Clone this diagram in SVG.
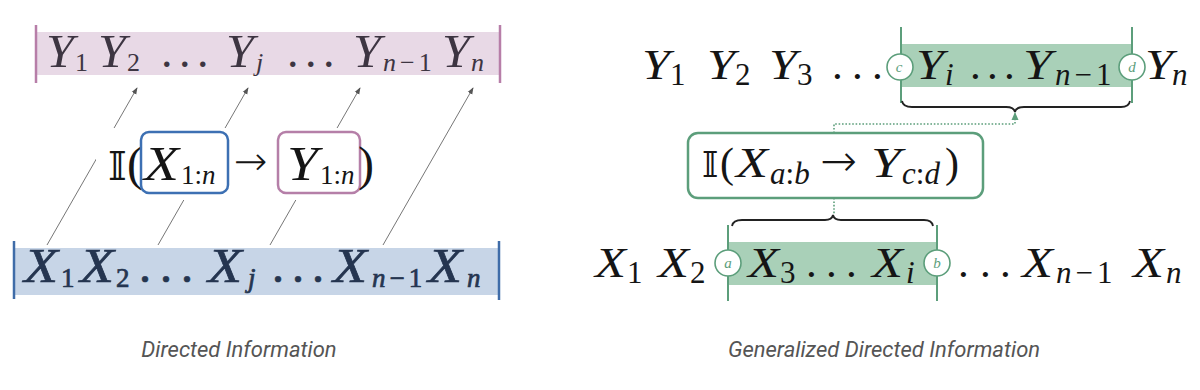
<svg xmlns="http://www.w3.org/2000/svg" width="1200" height="390" viewBox="0 0 1200 390">
<defs>
<style>
.mi{font-family:"Liberation Serif","Times New Roman",serif;font-style:italic}
.up{font-family:"Liberation Serif","Times New Roman",serif;font-style:normal}
.bb{font-family:"DejaVu Serif","DejaVu Sans",serif;font-style:normal}
.ar{font-family:"DejaVu Sans Light","DejaVu Sans ExtraLight","DejaVu Sans",sans-serif;font-weight:200;font-style:normal}
.ly{fill:#3d3542}
.lx{fill:#253550;stroke:#253550;stroke-width:0.7}
.rk{fill:#151515}
.cap{font-family:Roboto,"Liberation Sans",sans-serif;font-style:italic;font-size:22px;fill:#555}
.gl{stroke:#5c9e7b;stroke-width:2}
.circ{fill:#fff;stroke:#5c9e7b;stroke-width:1.6}
.cl{font-family:"Liberation Serif",serif;font-style:italic;font-size:15px;fill:#5c9e7b;text-anchor:middle}
.thin{stroke:#666;stroke-width:0.9;fill:none}
.dot{stroke:#5c9e7b;stroke-width:1.6;stroke-dasharray:1.6 1.8;fill:none}
.brace{stroke:#222;stroke-width:1.8;fill:none}
</style>
<marker id="ah" viewBox="0 0 8 8" refX="7" refY="4" markerWidth="7" markerHeight="7" markerUnits="userSpaceOnUse" orient="auto">
<path d="M0,1 L8,4 L0,7 z" fill="#555"/>
</marker>
<marker id="gah" viewBox="0 0 8 8" refX="7" refY="4" markerWidth="8" markerHeight="8" markerUnits="userSpaceOnUse" orient="auto">
<path d="M0,0.5 L8,4 L0,7.5 z" fill="#5c9e7b"/>
</marker>
</defs>
<rect width="1200" height="390" fill="#fff"/>

<!-- LEFT PANEL -->
<g id="left-connectors">
<line class="thin" x1="47" y1="245" x2="137" y2="88" marker-end="url(#ah)"/>
<line class="thin" x1="158" y1="245" x2="248" y2="88" marker-end="url(#ah)"/>
<line class="thin" x1="270" y1="245" x2="360" y2="88" marker-end="url(#ah)"/>
<line class="thin" x1="383" y1="245" x2="473" y2="88" marker-end="url(#ah)"/>
</g>

<g id="left-y-row">
<rect x="36" y="32" width="464" height="43" fill="#e8d9e6"/>
<line x1="36" y1="25" x2="36" y2="83" stroke="#b77ea8" stroke-width="2.5"/>
<line x1="500" y1="25" x2="500" y2="83" stroke="#b77ea8" stroke-width="2.5"/>
<g font-size="46">
<text class="mi ly" x="46" y="67" textLength="28" lengthAdjust="spacingAndGlyphs">Y</text>
<text class="mi ly" x="98" y="67" textLength="28" lengthAdjust="spacingAndGlyphs">Y</text>
<text class="up ly" x="161 179 197" y="67">...</text>
<text class="mi ly" x="226" y="67" textLength="28" lengthAdjust="spacingAndGlyphs">Y</text>
<text class="up ly" x="287 305 323" y="67">...</text>
<text class="mi ly" x="353" y="67" textLength="28" lengthAdjust="spacingAndGlyphs">Y</text>
<text class="mi ly" x="442" y="67" textLength="28" lengthAdjust="spacingAndGlyphs">Y</text>
</g>
<g font-size="26">
<text class="up ly" x="75" y="71">1</text>
<text class="up ly" x="127" y="71">2</text>
<text class="mi ly" x="256" y="71">j</text>
<text class="ly" x="383" y="71"><tspan class="mi">n</tspan><tspan class="up" dx="4">−</tspan><tspan class="up" dx="4">1</tspan></text>
<text class="mi ly" x="471" y="71">n</text>
</g>
</g>

<g id="left-x-row">
<rect x="14" y="248" width="485" height="47" fill="#c7d5e7"/>
<line x1="14" y1="241" x2="14" y2="299" stroke="#3f6ca8" stroke-width="2.5"/>
<line x1="499" y1="241" x2="499" y2="300" stroke="#3f6ca8" stroke-width="2.5"/>
<g font-size="48">
<text class="mi lx" x="24" y="282" textLength="34" lengthAdjust="spacingAndGlyphs">X</text>
<text class="mi lx" x="80" y="282" textLength="34" lengthAdjust="spacingAndGlyphs">X</text>
<text class="up lx" x="139 160 181" y="282">...</text>
<text class="mi lx" x="208" y="282" textLength="34" lengthAdjust="spacingAndGlyphs">X</text>
<text class="up lx" x="272 292 312" y="282">...</text>
<text class="mi lx" x="333" y="282" textLength="34" lengthAdjust="spacingAndGlyphs">X</text>
<text class="mi lx" x="428" y="282" textLength="34" lengthAdjust="spacingAndGlyphs">X</text>
</g>
<g font-size="27">
<text class="up lx" x="61" y="287">1</text>
<text class="up lx" x="116" y="287">2</text>
<text class="mi lx" x="248" y="287">j</text>
<text class="lx" x="372" y="287"><tspan class="mi">n</tspan><tspan class="up" dx="4">−</tspan><tspan class="up" dx="4">1</tspan></text>
<text class="mi lx" x="467" y="287">n</text>
</g>
</g>

<g id="left-formula">
<rect x="96" y="128" width="276" height="72" fill="#fff"/>
<text class="bb rk" x="108" y="180" font-size="40">𝕀</text>
<text class="up rk" x="127" y="180" font-size="48">(</text>
<g id="left-x-box">
<rect x="141" y="132" width="87" height="61" rx="8" fill="none" stroke="#3d70b3" stroke-width="2.5"/>
<text class="mi rk" x="144" y="180" font-size="48" textLength="35" lengthAdjust="spacingAndGlyphs">X</text>
<text class="rk" x="181" y="184" font-size="27"><tspan class="up">1:</tspan><tspan class="mi">n</tspan></text>
</g>
<text class="ar rk" x="234" y="175" font-size="40">→</text>
<g id="left-y-box">
<rect x="278" y="132" width="82" height="61" rx="8" fill="none" stroke="#b57fa8" stroke-width="2.5"/>
<text class="mi rk" x="287" y="180" font-size="48" textLength="31" lengthAdjust="spacingAndGlyphs">Y</text>
<text class="rk" x="320" y="184" font-size="27"><tspan class="up">1:</tspan><tspan class="mi">n</tspan></text>
</g>
<text class="up rk" x="358" y="180" font-size="48">)</text>
</g>

<!-- RIGHT PANEL -->
<g id="right-y-row">
<rect x="901" y="44" width="231" height="43" fill="#a9d0b8"/>
<line class="gl" x1="901" y1="27" x2="901" y2="103"/>
<line class="gl" x1="1132" y1="27" x2="1132" y2="103"/>
<g font-size="43">
<text class="mi rk" x="642" y="79" textLength="28" lengthAdjust="spacingAndGlyphs">Y</text>
<text class="mi rk" x="707" y="79" textLength="28" lengthAdjust="spacingAndGlyphs">Y</text>
<text class="mi rk" x="769" y="79" textLength="28" lengthAdjust="spacingAndGlyphs">Y</text>
<text class="up rk" x="832 852 872" y="79">...</text>
<text class="mi rk" x="916" y="79" textLength="28" lengthAdjust="spacingAndGlyphs">Y</text>
<text class="up rk" x="970 987 1004" y="79">...</text>
<text class="mi rk" x="1023" y="79" textLength="29" lengthAdjust="spacingAndGlyphs">Y</text>
<text class="mi rk" x="1145" y="79" textLength="28" lengthAdjust="spacingAndGlyphs">Y</text>
</g>
<g font-size="31">
<text class="up rk" x="670" y="85">1</text>
<text class="up rk" x="735" y="85">2</text>
<text class="up rk" x="797" y="85">3</text>
<text class="mi rk" x="945" y="85">i</text>
<text class="rk" x="1055" y="85"><tspan class="mi">n</tspan><tspan class="up" dx="4">−</tspan><tspan class="up" dx="4">1</tspan></text>
<text class="mi rk" x="1172" y="85">n</text>
</g>
<g id="node-c"><circle class="circ" cx="900" cy="67" r="13"/><text class="cl" x="899" y="72">c</text></g>
<g id="node-d"><circle class="circ" cx="1132" cy="67" r="13"/><text class="cl" x="1132" y="72">d</text></g>
</g>

<g id="right-x-row">
<rect x="728" y="242" width="209" height="43" fill="#a9d0b8"/>
<line class="gl" x1="728" y1="225" x2="728" y2="301"/>
<line class="gl" x1="937" y1="225" x2="937" y2="301"/>
<g font-size="43">
<text class="mi rk" x="595" y="277" textLength="31" lengthAdjust="spacingAndGlyphs">X</text>
<text class="mi rk" x="658" y="277" textLength="31" lengthAdjust="spacingAndGlyphs">X</text>
<text class="mi rk" x="748" y="277" textLength="31" lengthAdjust="spacingAndGlyphs">X</text>
<text class="up rk" x="806 826 846" y="277">...</text>
<text class="mi rk" x="872" y="277" textLength="31" lengthAdjust="spacingAndGlyphs">X</text>
<text class="up rk" x="958 980 1000" y="277">...</text>
<text class="mi rk" x="1022" y="277" textLength="31" lengthAdjust="spacingAndGlyphs">X</text>
<text class="mi rk" x="1133" y="277" textLength="31" lengthAdjust="spacingAndGlyphs">X</text>
</g>
<g font-size="31">
<text class="up rk" x="627" y="283">1</text>
<text class="up rk" x="690" y="283">2</text>
<text class="up rk" x="780" y="283">3</text>
<text class="mi rk" x="906" y="283">i</text>
<text class="rk" x="1056" y="283"><tspan class="mi">n</tspan><tspan class="up" dx="4">−</tspan><tspan class="up" dx="4">1</tspan></text>
<text class="mi rk" x="1166" y="283">n</text>
</g>
<g id="node-a"><circle class="circ" cx="728" cy="263" r="13"/><text class="cl" x="728" y="268">a</text></g>
<g id="node-b"><circle class="circ" cx="937" cy="263" r="13"/><text class="cl" x="937" y="268">b</text></g>
</g>

<g id="right-formula">
<rect x="688" y="133" width="295" height="65" rx="10" fill="#fff" stroke="#5c9e7b" stroke-width="2.5"/>
<text class="bb rk" x="702" y="177" font-size="35">𝕀</text>
<text class="up rk" x="720" y="177" font-size="42">(</text>
<text class="mi rk" x="736" y="177" font-size="42" textLength="32" lengthAdjust="spacingAndGlyphs">X</text>
<text class="rk" x="770" y="184" font-size="31"><tspan class="mi">a</tspan><tspan class="up">:</tspan><tspan class="mi">b</tspan></text>
<text class="ar rk" x="820" y="176" font-size="44">→</text>
<text class="mi rk" x="871" y="177" font-size="42" textLength="30" lengthAdjust="spacingAndGlyphs">Y</text>
<text class="rk" x="902" y="184" font-size="31"><tspan class="mi">c</tspan><tspan class="up">:</tspan><tspan class="mi">d</tspan></text>
<text class="up rk" x="945" y="177" font-size="42">)</text>
</g>

<g id="right-connectors">
<path class="brace" d="M902,101 Q903,107 912,107 L1006,107 Q1014,107 1015,112 Q1016,107 1024,107 L1121,107 Q1129,107 1130,101"/>
<path class="brace" d="M732,226 Q733,220 742,220 L825,220 Q832,220 833,215 Q834,220 841,220 L924,220 Q932,220 933,226"/>
<path class="dot" d="M834,133 V124 H1015 V113" marker-end="url(#gah)"/>
<path class="dot" d="M834,198 V215"/>
</g>

<g id="captions">
<text class="cap" x="239" y="357" text-anchor="middle">Directed Information</text>
<text class="cap" x="884" y="357" text-anchor="middle">Generalized Directed Information</text>
</g>
</svg>
